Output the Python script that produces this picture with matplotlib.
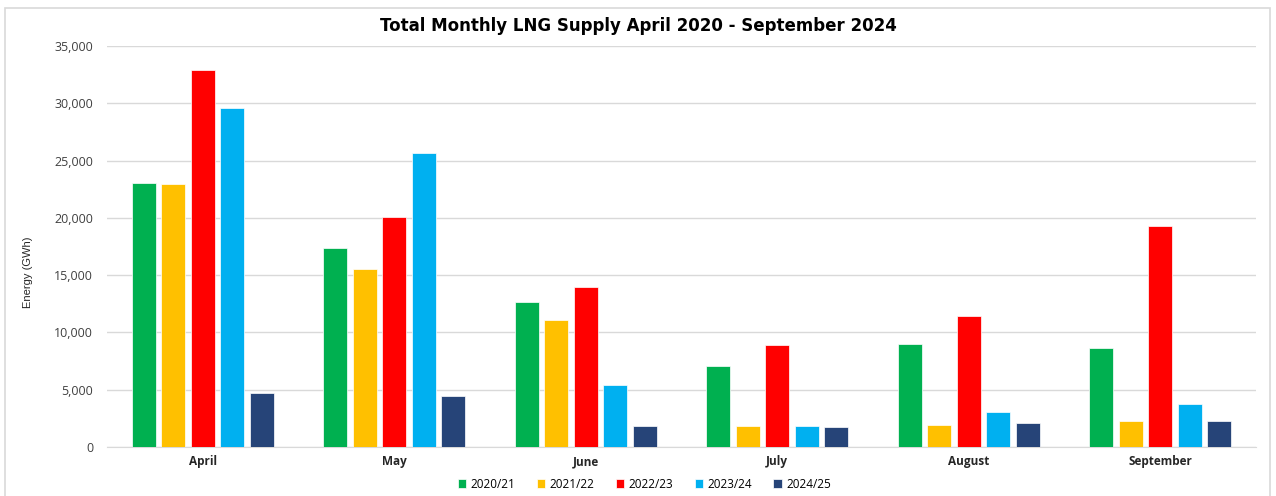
import matplotlib.pyplot as plt
import numpy as np
from matplotlib.patches import Rectangle
from matplotlib.ticker import FuncFormatter

months = ["April", "May", "June", "July", "August", "September"]
series_names = ["2020/21", "2021/22", "2022/23", "2023/24", "2024/25"]
s2020 = [23050, 17370, 12650, 7070, 8990, 8650]
s2021 = [22950, 15540, 11050, 1830, 1900, 2270]
s2022 = [32900, 20080, 13960, 8900, 11440, 19300]
s2023 = [29600, 25660, 5410, 1800, 3080, 3750]
s2024 = [4720, 4450, 1830, 1750, 2080, 2280]
colors = ["#00b050", "#ffc000", "#ff0000", "#00b0f0", "#264478"]
yticks = [0, 5000, 10000, 15000, 20000, 25000, 30000, 35000]

plt.rcParams['font.family'] = ['Open Sans', 'DejaVu Sans']

fig = plt.figure(figsize=(12.76, 4.96), dpi=100)
fig.patches.append(Rectangle((5/1276, -0.1), 1265/1276, 1.1 - 8/496, transform=fig.transFigure,
                             fill=False, edgecolor="#d9d9d9", linewidth=1.2))
ax = fig.add_axes([107/1276, 1 - 447/496, (1256 - 107)/1276, (447 - 46)/496])

data = [s2020, s2021, s2022, s2023, s2024]
x = np.arange(len(months))
step = 0.154
width = 0.125
for i, (name, vals, c) in enumerate(zip(series_names, data, colors)):
    ax.bar(x + (i - 2) * step, vals, width, color=c, label=name, zorder=3,
           edgecolor="white", linewidth=0.5)

ax.set_xlim(-0.5, len(months) - 0.5)
ax.set_ylim(0, 35000)
ax.set_yticks(yticks)
ax.yaxis.set_major_formatter(FuncFormatter(lambda v, p: f"{int(v):,}"))
ax.set_xticks(x)
ax.set_xticklabels(months, fontweight="bold", fontsize=8.5)
ax.tick_params(axis="y", labelsize=9, colors="#404040", length=0, pad=10)
ax.tick_params(axis="x", length=0, pad=6, colors="#262626")
ax.grid(axis="y", color="#d9d9d9", linewidth=1, zorder=0)
for s in ["top", "right", "left"]:
    ax.spines[s].set_visible(False)
ax.spines["bottom"].set_color("#d9d9d9")
ax.set_ylabel("Energy (GWh)", fontsize=8, family=["Liberation Sans", "DejaVu Sans"], color="#262626")
ax.yaxis.set_label_coords(-0.064, 0.436)

fig.text(0.5, 1 - 26/496, "Total Monthly LNG Supply April 2020 - September 2024",
         ha="center", va="center", fontsize=12, fontweight="bold", family="DejaVu Sans")
fig.legend(loc="center", bbox_to_anchor=(0.505, 1 - 484/496), ncol=5, frameon=False,
           fontsize=8.5, handlelength=0.7, handleheight=0.7, columnspacing=1.8, handletextpad=0.4)

fig.savefig("out.png", dpi=100)
